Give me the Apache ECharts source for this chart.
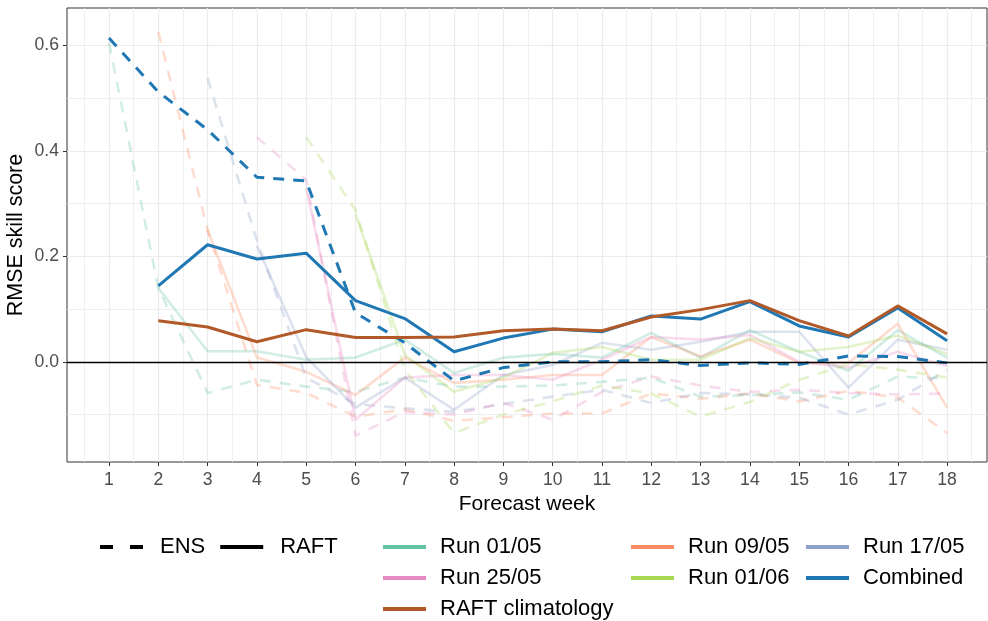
<!DOCTYPE html>
<html>
<head>
<meta charset="utf-8">
<script src="https://cdn.jsdelivr.net/npm/echarts@6/dist/echarts.min.js"></script>
<style>
  html, body { margin: 0; padding: 0; background: #ffffff; }
  #chart { width: 988px; height: 621px; }
</style>
</head>
<body>
<div id="chart"></div>
<script>
// Forecast weeks on the x axis
const weeks = [1, 2, 3, 4, 5, 6, 7, 8, 9, 10, 11, 12, 13, 14, 15, 16, 17, 18];

// Tick positions
const xTicks = weeks;
const xMinorTicks = [0.5, 1.5, 2.5, 3.5, 4.5, 5.5, 6.5, 7.5, 8.5, 9.5, 10.5, 11.5, 12.5, 13.5, 14.5, 15.5, 16.5, 17.5, 18.5];
const yTicks = [0, 0.2, 0.4, 0.6];
const yMinorTicks = [-0.1, 0.1, 0.3, 0.5];

// RMSE skill score per run (ENS = ensemble, RAFT = model); null = no forecast that week
const run0105Ens  = [0.605, 0.14, -0.059, -0.034, -0.047, -0.057, -0.03, -0.047, -0.047, -0.045, -0.038, -0.03, -0.066, -0.063, -0.058, -0.072, -0.028, -0.032];
const run0105Raft = [null, 0.14, 0.02, 0.02, 0.004, 0.008, 0.042, -0.021, 0.008, 0.015, 0.008, 0.055, 0.008, 0.06, 0.019, -0.017, 0.06, 0.008];

const run0905Ens  = [null, 0.626, 0.25, -0.044, -0.059, -0.104, -0.09, -0.112, -0.105, -0.098, -0.098, -0.06, -0.07, -0.06, -0.075, -0.055, -0.068, -0.135];
const run0905Raft = [null, null, 0.25, 0.008, -0.019, -0.063, 0.008, -0.04, -0.034, -0.025, -0.025, 0.047, 0.01, 0.042, -0.002, -0.002, 0.072, -0.087];

const run1705Ens  = [null, null, 0.538, 0.23, -0.03, -0.08, -0.088, -0.095, -0.08, -0.066, -0.053, -0.078, -0.059, -0.062, -0.068, -0.1, -0.072, -0.015];
const run1705Raft = [null, null, null, 0.22, 0.009, -0.087, -0.03, -0.091, -0.025, -0.006, 0.036, 0.023, 0.038, 0.057, 0.057, -0.049, 0.042, 0.023];

const run2505Ens  = [null, null, null, 0.426, 0.345, -0.14, -0.095, -0.1, -0.078, -0.11, -0.057, -0.028, -0.045, -0.057, -0.053, -0.059, -0.062, -0.06];
const run2505Raft = [null, null, null, null, 0.33, -0.11, -0.03, -0.025, -0.025, -0.034, 0.004, 0.047, 0.042, 0.051, 0.0, -0.011, 0.019, -0.008];

const run0106Ens  = [null, null, null, null, 0.426, 0.288, -0.015, -0.135, -0.1, -0.075, -0.045, -0.06, -0.104, -0.076, -0.034, -0.005, -0.015, -0.03];
const run0106Raft = [null, null, null, null, null, 0.28, 0.013, -0.057, -0.03, 0.017, 0.028, 0.004, 0.004, 0.045, 0.019, 0.028, 0.05, 0.015];

const combinedEns  = [0.614, 0.512, 0.44, 0.35, 0.343, 0.093, 0.036, -0.036, -0.011, 0.0, 0.0, 0.004, -0.007, -0.002, -0.005, 0.011, 0.01, -0.002];
const combinedRaft = [null, 0.144, 0.222, 0.195, 0.206, 0.116, 0.082, 0.019, 0.045, 0.062, 0.057, 0.087, 0.081, 0.114, 0.068, 0.047, 0.102, 0.04];

const raftClimatology = [null, 0.078, 0.066, 0.038, 0.061, 0.046, 0.046, 0.047, 0.059, 0.062, 0.059, 0.085, 0.099, 0.116, 0.078, 0.049, 0.106, 0.053];

const runs = [
  { name: 'Run 01/05', color: '#66c2a5', ens: run0105Ens, raft: run0105Raft, faint: true },
  { name: 'Run 09/05', color: '#fc8d62', ens: run0905Ens, raft: run0905Raft, faint: true },
  { name: 'Run 17/05', color: '#8da0cb', ens: run1705Ens, raft: run1705Raft, faint: true },
  { name: 'Run 25/05', color: '#e78ac3', ens: run2505Ens, raft: run2505Raft, faint: true },
  { name: 'Run 01/06', color: '#a6d854', ens: run0106Ens, raft: run0106Raft, faint: true },
  { name: 'Combined',  color: '#1f78b4', ens: combinedEns, raft: combinedRaft, faint: false }
];
const climColor = '#b15928';

const DASH = [11, 9];
const FONT = 'Liberation Sans, Arial, sans-serif';

function pairs(values) {
  const out = [];
  weeks.forEach((w, i) => { if (values[i] !== null) out.push([w, values[i]]); });
  return out;
}

function lineSeries(name, values, color, dashed, faint, z) {
  return {
    name: name,
    type: 'line',
    data: pairs(values),
    symbol: 'none',
    silent: true,
    z: z,
    lineStyle: {
      color: color,
      width: faint ? 2.6 : 3,
      opacity: faint ? 0.3 : 1,
      type: dashed ? DASH : 'solid',
      cap: 'butt',
      join: 'round'
    },
    emphasis: { disabled: true }
  };
}

const series = [];
runs.forEach((r) => {
  const z = r.faint ? 2 : 4;
  series.push(lineSeries(r.name, r.ens, r.color, true, r.faint, z));
  series.push(lineSeries(r.name, r.raft, r.color, false, r.faint, z));
});
series.push(lineSeries('RAFT climatology', raftClimatology, climColor, false, false, 5));

// Line-type legend entries (no data)
series.push({ name: 'ENS', type: 'line', data: [], symbol: 'none', lineStyle: { color: '#000', width: 3, type: [13, 17] } });
series.push({ name: 'RAFT', type: 'line', data: [], symbol: 'none', lineStyle: { color: '#000', width: 3 } });

// Zero reference line
series.push({
  type: 'line', data: [], silent: true, z: 3,
  markLine: {
    silent: true, symbol: 'none', label: { show: false },
    lineStyle: { color: '#000', width: 1.3, type: 'solid' },
    data: [{ yAxis: 0 }]
  }
});

function legendItem(name, color, type) {
  return {
    name: name,
    lineStyle: { color: color, width: 4, opacity: 1, type: type || 'solid', cap: 'butt' },
    itemStyle: { color: 'transparent', borderWidth: 0, opacity: 0 }
  };
}

const legendBase = {
  itemWidth: 43,
  itemHeight: 14,
  selectedMode: false,
  padding: 0,
  orient: 'vertical',
  itemGap: 9,
  height: 100,
  top: 536,
  textStyle: { fontFamily: FONT, fontSize: 22, color: '#000', padding: [0, 0, 0, 9] }
};

const option = {
  animation: false,
  backgroundColor: '#ffffff',
  grid: {
    left: 67, top: 8, right: 1, bottom: 159,
    outerBoundsMode: 'none', containLabel: false,
    show: true, borderColor: '#333333', borderWidth: 1, backgroundColor: 'transparent'
  },
  xAxis: [
    {
      type: 'value', min: 0.148, max: 18.81,
      name: 'Forecast week', nameLocation: 'middle', nameGap: 24,
      nameTextStyle: { fontFamily: FONT, fontSize: 21, color: '#000' },
      axisLine: { show: false, onZero: false },
      axisTick: { show: true, length: 4, customValues: xTicks, lineStyle: { color: '#333', width: 1 } },
      axisLabel: { customValues: xTicks, margin: 9, fontFamily: FONT, fontSize: 17.6, color: '#4d4d4d' },
      splitLine: { show: true, lineStyle: { color: '#ebebeb', width: 1.2 } }
    },
    {
      type: 'value', min: 0.148, max: 18.81, gridIndex: 0,
      axisLine: { show: false, onZero: false },
      axisTick: { show: false, customValues: xMinorTicks },
      axisLabel: { show: false, customValues: xMinorTicks },
      splitLine: { show: true, lineStyle: { color: '#ebebeb', width: 0.8 } }
    }
  ],
  yAxis: [
    {
      type: 'value', min: -0.19, max: 0.671,
      name: 'RMSE skill score', nameLocation: 'middle', nameGap: 40, nameRotate: 90,
      nameMoveOverlap: false,
      nameTextStyle: { fontFamily: FONT, fontSize: 21.5, color: '#000' },
      axisLine: { show: false, onZero: false },
      axisTick: { show: true, length: 4, customValues: yTicks, lineStyle: { color: '#333', width: 1 } },
      axisLabel: { customValues: yTicks, margin: 8, fontFamily: FONT, fontSize: 17.6, color: '#4d4d4d',
                   formatter: v => v.toFixed(1) },
      splitLine: { show: true, lineStyle: { color: '#ebebeb', width: 1.2 } }
    },
    {
      type: 'value', min: -0.19, max: 0.671, gridIndex: 0,
      axisLine: { show: false, onZero: false },
      axisTick: { show: false, customValues: yMinorTicks },
      axisLabel: { show: false, customValues: yMinorTicks },
      splitLine: { show: true, lineStyle: { color: '#ebebeb', width: 0.8 } }
    }
  ],
  legend: [
    Object.assign({}, legendBase, {
      orient: 'horizontal', left: 98, itemGap: 13, height: 30,
      textStyle: Object.assign({}, legendBase.textStyle, { padding: [0, 0, 0, 12] }),
      data: [legendItem('ENS', '#000', [13, 17]), legendItem('RAFT', '#000')]
    }),
    Object.assign({}, legendBase, {
      left: 381,
      data: [legendItem('Run 01/05', '#66c2a5'), legendItem('Run 25/05', '#e78ac3'), legendItem('RAFT climatology', climColor)]
    }),
    Object.assign({}, legendBase, {
      left: 629,
      data: [legendItem('Run 09/05', '#fc8d62'), legendItem('Run 01/06', '#a6d854')]
    }),
    Object.assign({}, legendBase, {
      left: 804,
      data: [legendItem('Run 17/05', '#8da0cb'), legendItem('Combined', '#1f78b4')]
    })
  ],
  series: series
};

const chart = echarts.init(document.getElementById('chart'), null, { renderer: 'canvas' });
chart.setOption(option);
</script>
</body>
</html>
